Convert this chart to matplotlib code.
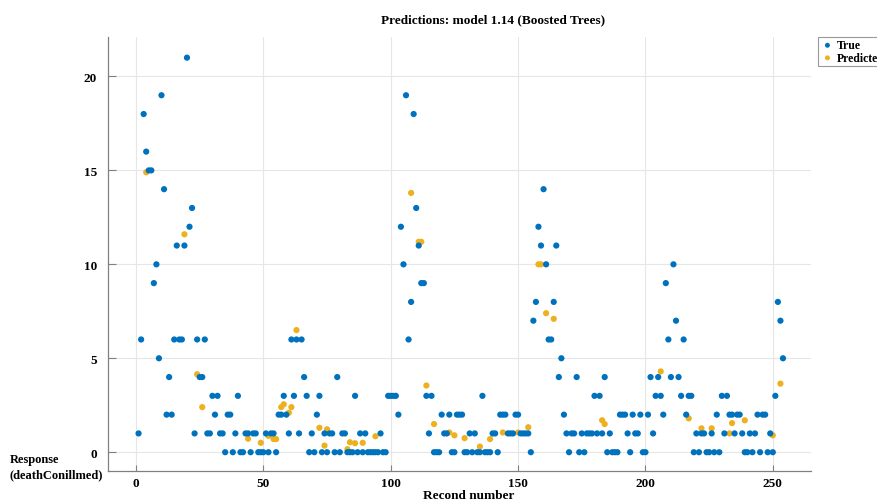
# Response plot for the boosted trees model: true vs predicted per record

import matplotlib
matplotlib.use('Agg')
import matplotlib.pyplot as plt

# true response, records 1..254
true_records = list(range(1, 255))
true_values = [
    1, 6, 18, 16, 15, 15, 9, 10, 5, 19,      # 1-10
    14, 2, 4, 2, 6, 11, 6, 6, 11, 21,        # 11-20
    12, 13, 1, 6, 4, 4, 6, 1, 1, 3,          # 21-30
    2, 3, 1, 1, 0, 2, 2, 0, 1, 3,            # 31-40
    0, 0, 1, 1, 0, 1, 1, 0, 0, 0,            # 41-50
    1, 0, 1, 1, 0, 2, 2, 3, 2, 1,            # 51-60
    6, 3, 6, 1, 6, 4, 3, 0, 1, 0,            # 61-70
    2, 3, 0, 1, 0, 1, 1, 0, 4, 0,            # 71-80
    1, 1, 0, 0, 0, 3, 0, 1, 0, 1,            # 81-90
    0, 0, 0, 0, 0, 1, 0, 0, 3, 3,            # 91-100
    3, 3, 2, 12, 10, 19, 6, 8, 18, 13,       # 101-110
    11, 9, 9, 3, 1, 3, 0, 0, 0, 2,           # 111-120
    1, 1, 2, 0, 0, 2, 2, 2, 0, 0,            # 121-130
    1, 0, 1, 0, 0, 3, 0, 0, 0, 1,            # 131-140
    1, 0, 2, 2, 2, 1, 1, 1, 2, 2,            # 141-150
    1, 1, 1, 1, 0, 7, 8, 12, 11, 14,         # 151-160
    10, 6, 6, 8, 11, 4, 5, 2, 1, 0,          # 161-170
    1, 1, 4, 0, 1, 0, 1, 1, 1, 3,            # 171-180
    1, 3, 1, 4, 0, 1, 0, 0, 0, 2,            # 181-190
    2, 2, 1, 0, 2, 1, 1, 2, 0, 0,            # 191-200
    2, 4, 1, 3, 4, 3, 2, 9, 6, 4,            # 201-210
    10, 7, 4, 3, 6, 2, 3, 3, 0, 1,           # 211-220
    0, 1, 1, 0, 0, 1, 0, 2, 0, 3,            # 221-230
    1, 3, 2, 2, 1, 2, 2, 1, 0, 0,            # 231-240
    1, 0, 1, 2, 0, 2, 2, 0, 1, 0,            # 241-250
    3, 8, 7, 5,                              # 251-254
]

# predicted response (only the points that show from under the true ones)
pred_records = [4, 19, 24, 26, 44, 49, 52, 54, 55, 57, 58, 60, 61, 63, 72, 74,
                75, 83, 84, 86, 89, 94, 108, 111, 112, 114, 117, 123, 125, 129,
                135, 139, 144, 150, 154, 158, 159, 161, 164, 183, 184, 206, 217,
                222, 226, 233, 234, 239, 250, 253]
pred_values = [14.9, 11.6, 4.15, 2.4, 0.72, 0.5, 0.87, 0.7, 0.7, 2.4, 2.55, 2.1,
               2.4, 6.5, 1.3, 0.35, 1.22, 0.16, 0.53, 0.48, 0.5, 0.85, 13.8, 11.2,
               11.2, 3.55, 1.5, 1.05, 0.9, 0.75, 0.3, 0.7, 1.05, 1.05, 1.33, 10.0,
               10.0, 7.4, 7.1, 1.7, 1.5, 4.3, 1.8, 1.27, 1.27, 1.0, 1.55, 1.7,
               0.9, 3.65]

x_ticks = [0, 50, 100, 150, 200, 250]
y_ticks = [0, 5, 10, 15, 20]

BLUE = '#0072BD'
ORANGE = '#EDB120'
FONT = ['Liberation Serif', 'DejaVu Serif']


def main():
    fig = plt.figure(figsize=(8.77, 5.02), dpi=100)
    ax = fig.add_axes([108 / 877, 1 - 472 / 502, (811 - 108) / 877, (472 - 38) / 502])

    ax.scatter(pred_records, pred_values, s=20, color=ORANGE, edgecolors='none',
               zorder=2, label='Predicted')
    ax.scatter(true_records, true_values, s=20, color=BLUE, edgecolors='none',
               zorder=3, label='True')

    ax.set_xlim(-11, 265)
    ax.set_ylim(-1, 22.1)
    ax.set_xticks(x_ticks)
    ax.set_yticks(y_ticks)
    ax.grid(True, color='#e6e6e6', linewidth=0.8, zorder=0)
    ax.set_axisbelow(True)

    for side in ['top', 'right']:
        ax.spines[side].set_visible(False)
    for side in ['left', 'bottom']:
        ax.spines[side].set_color('#808080')
        ax.spines[side].set_linewidth(0.9)
    ax.tick_params(direction='in', width=0.8, color='#808080')
    ax.tick_params(axis='y', length=6, pad=8)
    ax.tick_params(axis='x', length=4, pad=4)
    for lab in ax.get_xticklabels() + ax.get_yticklabels():
        lab.set_family(FONT)
        lab.set_fontweight('bold')
        lab.set_fontsize(9.5)

    fig.text(493 / 877, 1 - 20 / 502, 'Predictions: model 1.14 (Boosted Trees)',
             ha='center', va='center', family=FONT, fontweight='bold', fontsize=9.5)
    fig.text(469 / 877, 1 - 496 / 502, 'Recond number', ha='center', va='center',
             family=FONT, fontweight='bold', fontsize=9.5)
    fig.text(10 / 877, 1 - 468 / 502, 'Response\n(deathConillmed)', ha='left',
             va='center', multialignment='left', family=FONT,
             fontweight='bold', fontsize=9, linespacing=1.35)

    handles, labels = ax.get_legend_handles_labels()
    leg = fig.legend(handles[::-1], labels[::-1], loc='upper left',
                     bbox_to_anchor=(818 / 877, 1 - 38 / 502), borderaxespad=0,
                     prop={'family': FONT, 'weight': 'bold', 'size': 8.5},
                     frameon=True, fancybox=False, borderpad=0.2,
                     handletextpad=0.2, handlelength=1.2, labelspacing=0.05,
                     markerscale=0.8)
    leg.get_frame().set_edgecolor('#808080')
    leg.get_frame().set_linewidth(0.8)

    fig.savefig('out.png', dpi=100)


if __name__ == '__main__':
    main()
